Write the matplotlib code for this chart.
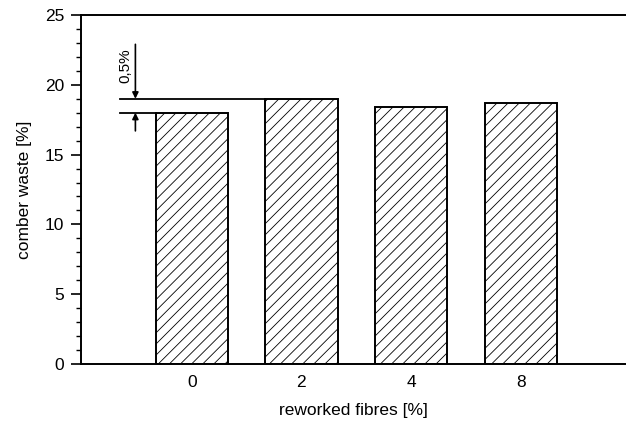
import matplotlib
matplotlib.use("Agg")
import matplotlib.pyplot as plt
import numpy as np

plt.rcParams['font.family'] = ['Liberation Sans', 'DejaVu Sans']
plt.rcParams['hatch.linewidth'] = 0.6

# reworked fibre share and the comber waste
fibres = ["0", "2", "4", "8"]
waste = [18.0, 19.0, 18.4, 18.7]

fig = plt.figure(figsize=(6.26, 4.23), dpi=100)
ax = fig.add_axes([0.1294, 0.1395, 0.8706, 0.825])

x = np.arange(len(fibres))
ax.bar(x, waste, width=0.66, color="white", edgecolor="black",
       linewidth=1.4, hatch="///", zorder=2)

ax.set_xlim(-1.01, 3.96)
ax.set_ylim(0, 25)
ax.set_xticks(x)
ax.set_xticklabels(fibres)
ax.tick_params(axis="x", length=0, pad=8, labelsize=12.5)
ax.set_yticks(np.arange(0, 26, 5))
ax.set_yticks(np.arange(0, 26, 1), minor=True)
ax.tick_params(axis="y", which="major", length=7.2, width=1.2, labelsize=12.5, pad=5)
ax.tick_params(axis="y", which="minor", length=3.6, width=1.0)
ax.spines["right"].set_visible(False)
for s in ["left", "top", "bottom"]:
    ax.spines[s].set_linewidth(1.4)

ax.set_xlabel("reworked fibres [%]", fontsize=12.5, labelpad=9)
ax.set_ylabel("comber waste [%]", fontsize=12.5, labelpad=9)

# difference marker between bar 0 and bar 2
lo, hi = waste[0], waste[1]
ax.plot([-0.65, x[1] - 0.33], [hi, hi], color="black", lw=1.3, zorder=3)
ax.plot([-0.65, x[0] - 0.33], [lo, lo], color="black", lw=1.3, zorder=3)
xa = -0.514
ax.annotate("", xy=(xa, hi), xytext=(xa, 22.9),
            arrowprops=dict(arrowstyle="-|>", color="black", lw=1.2,
                            mutation_scale=9, shrinkA=0, shrinkB=0))
ax.annotate("", xy=(xa, lo), xytext=(xa, 16.7),
            arrowprops=dict(arrowstyle="-|>", color="black", lw=1.2,
                            mutation_scale=9, shrinkA=0, shrinkB=0))
ax.text(-0.603, 21.36, "0,5%", rotation=90, ha="center", va="center", fontsize=11)

fig.savefig("out.png", dpi=100)
